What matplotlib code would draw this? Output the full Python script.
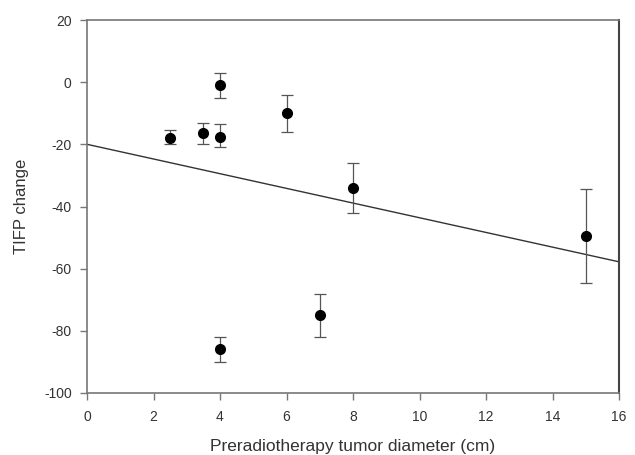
import numpy as np
import matplotlib
matplotlib.use("Agg")
import matplotlib.pyplot as plt

plt.rcParams['font.family'] = ['Liberation Sans', 'DejaVu Sans']
plt.rcParams['axes.unicode_minus'] = False

diameter = [2.5, 3.5, 4, 4, 6, 8, 15, 7, 4]
tifp_change = [-18, -16.5, -1, -17.5, -10, -34, -49.5, -75, -86]
err_upper = [2.5, 3.5, 4, 4, 6, 8, 15, 7, 4]
err_lower = [2.0, 3.5, 4, 3.5, 6, 8, 15, 7, 4]

x_ticks = [0, 2, 4, 6, 8, 10, 12, 14, 16]
y_ticks = [-100, -80, -60, -40, -20, 0, 20]

fig = plt.figure(figsize=(6.35, 4.55), dpi=100)
ax = fig.add_axes([87/635, 1 - 393/455, (619 - 87)/635, (393 - 20)/455])

ax.errorbar(diameter, tifp_change, yerr=[err_lower, err_upper], fmt='o',
            color='black', ecolor='#555555', elinewidth=0.9, capsize=4,
            capthick=0.9, markersize=7, zorder=3)

slope, intercept = np.polyfit(diameter, tifp_change, 1)
xl = np.array([0, 16])
ax.plot(xl, intercept + slope * xl, color='#333333', linewidth=1.0)

ax.set_xlim(0, 16)
ax.set_ylim(-100, 20)
ax.set_xticks(x_ticks)
ax.set_yticks(y_ticks)
for s in ax.spines.values():
    s.set_color('#777777')
    s.set_linewidth(1.2)
ax.spines['right'].set_color('#444444')
ax.spines['right'].set_linewidth(1.5)
ax.tick_params(direction='out', length=5, width=1, colors='#777777',
               labelcolor='#333333', labelsize=10)
ax.tick_params(axis='x', pad=7)
ax.tick_params(axis='y', pad=6)
ax.set_xlabel('Preradiotherapy tumor diameter (cm)', fontsize=12.5, color='#333333')
ax.set_ylabel('TIFP change', fontsize=12, color='#333333')
ax.xaxis.set_label_coords(0.5, (393 - 446) / 373, transform=ax.transAxes)
ax.xaxis.label.set_va('center')
ax.yaxis.set_label_coords((21 - 87) / 532, 0.5, transform=ax.transAxes)
ax.yaxis.label.set_va('center')

fig.savefig('out.png', dpi=100)
